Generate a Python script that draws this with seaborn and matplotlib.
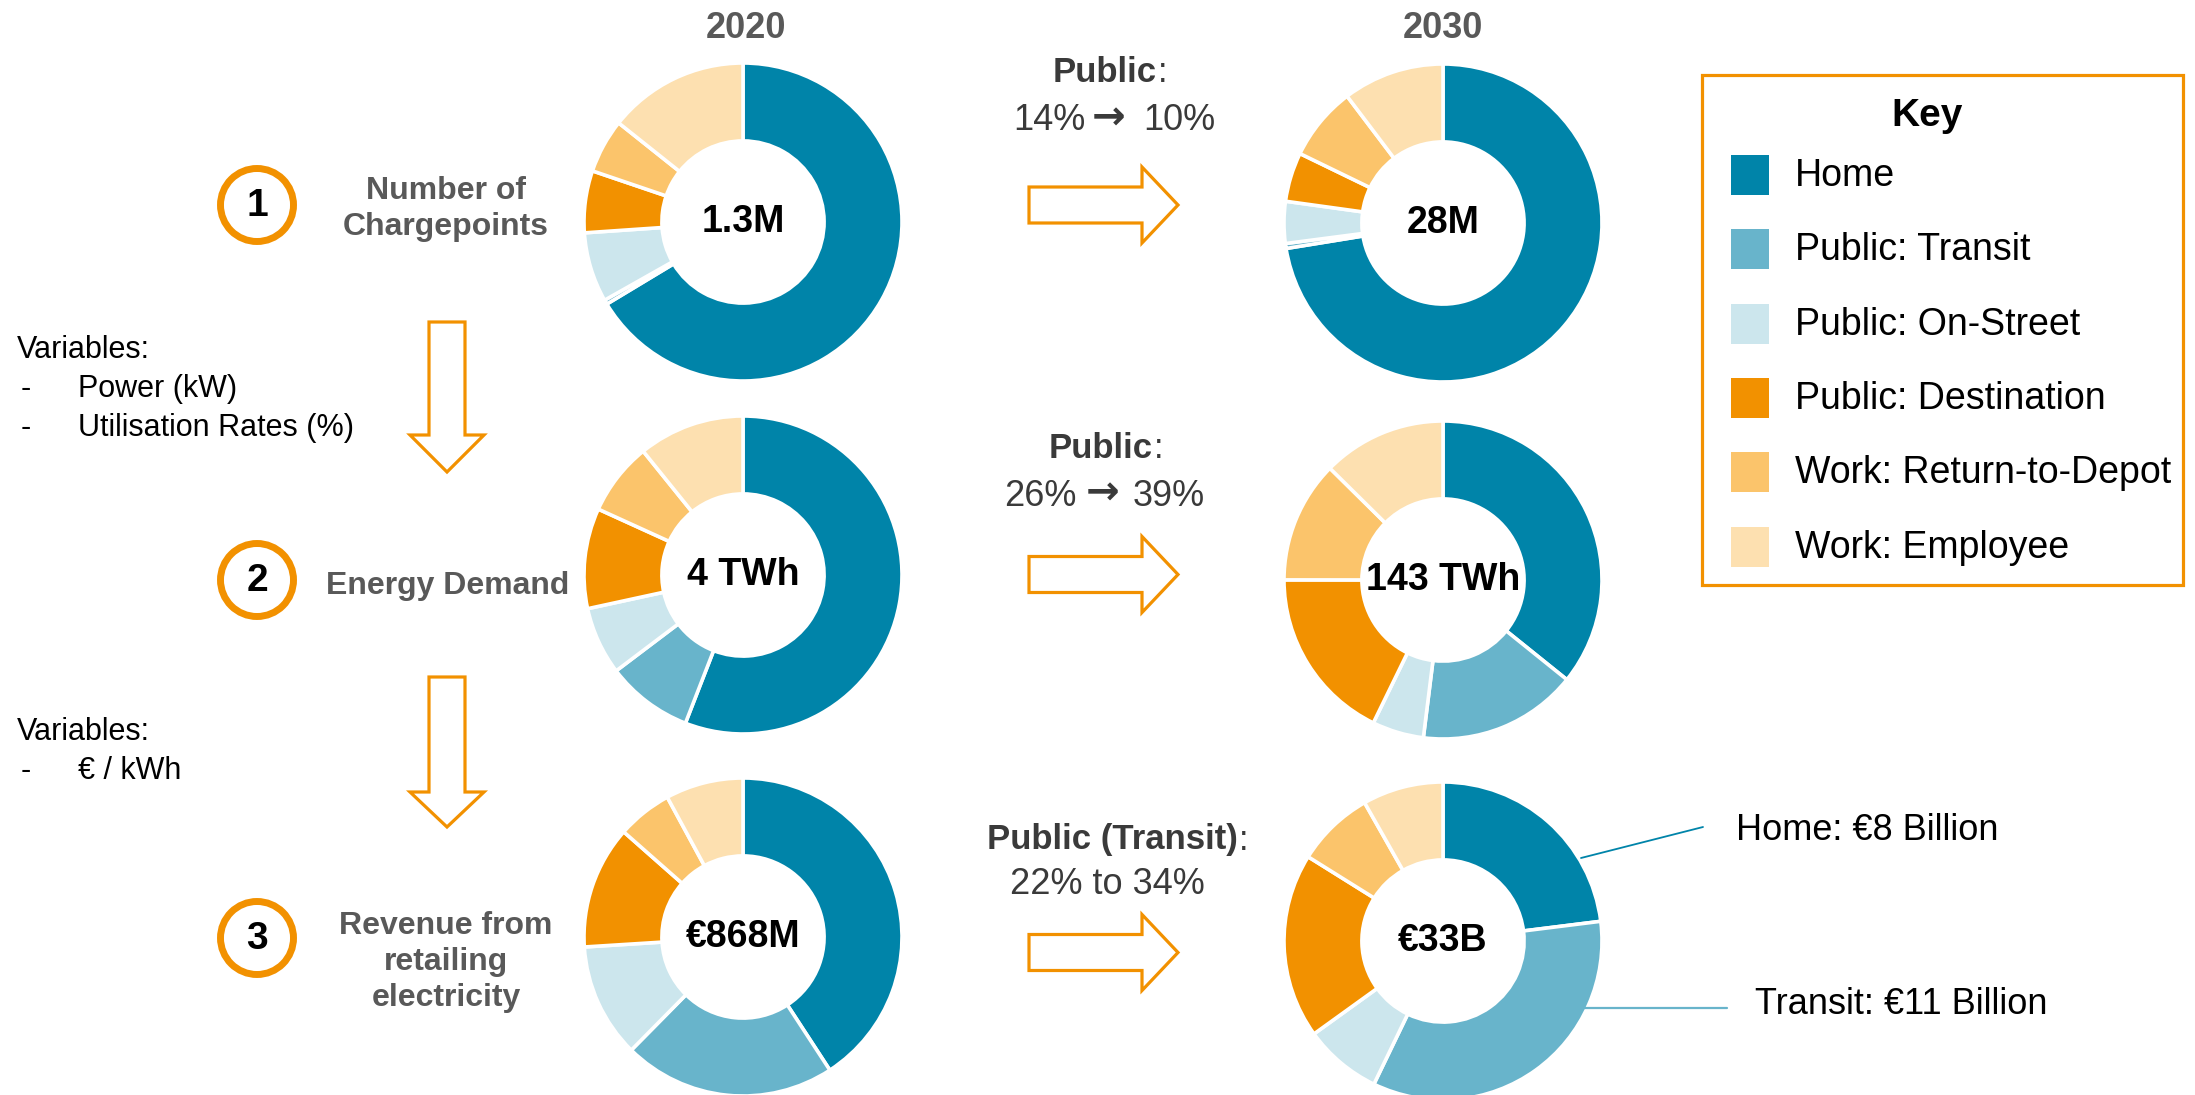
import matplotlib
matplotlib.use("Agg")
import matplotlib.pyplot as plt
import seaborn as sns
from matplotlib.patches import Polygon, Circle, Rectangle

# ---------------- data ----------------
categories = ["Home", "Public: Transit", "Public: On-Street",
              "Public: Destination", "Work: Return-to-Depot", "Work: Employee"]
colors_hex = ["#0084A9", "#68B4CB", "#CCE6ED", "#F29100", "#FBC46B", "#FDE0B0"]

chargepoints_2020 = [66.4, 0.45, 7.1, 6.3, 5.5, 14.3]
chargepoints_2030 = [72.4, 0.5, 4.25, 5.0, 7.5, 10.3]
energy_2020 = [55.9, 8.8, 6.9, 10.2, 7.4, 10.8]
energy_2030 = [35.8, 16.2, 5.25, 17.8, 12.4, 12.6]
revenue_2020 = [40.8, 21.6, 11.6, 12.5, 5.6, 7.9]
revenue_2030 = [23.0, 34.1, 7.9, 18.8, 7.9, 8.2]

center_labels = ["1.3M", "28M", "4 TWh", "143 TWh", "€868M", "€33B"]
years = ["2020", "2030"]
step_numbers = ["1", "2", "3"]
row_titles = ["Number of\nChargepoints", "Energy Demand", "Revenue from\nretailing\nelectricity"]
change_titles = ["Public", "Public", "Public (Transit)"]
change_from = ["14%", "26%"]
change_to = ["10%", "39%"]
change_text_3 = "22% to 34%"
variables_1 = ["Power (kW)", "Utilisation Rates (%)"]
variables_2 = ["€ / kWh"]
callouts = ["Home: €8 Billion", "Transit: €11 Billion"]

# ---------------- style ----------------
sns.set_theme(style="white")
plt.rcParams["font.family"] = ["Liberation Sans", "DejaVu Sans"]
palette = sns.color_palette(colors_hex)

W, H = 2195, 1095
DPI = 100
fig = plt.figure(figsize=(W / DPI, H / DPI), dpi=DPI, facecolor="white")

ORANGE = "#F29100"
GREY = "#595959"
DARK = "#3A3A3A"

# ---------------- donuts ----------------
R = 159
PAD = 1.03
donut_data = [chargepoints_2020, chargepoints_2030, energy_2020,
              energy_2030, revenue_2020, revenue_2030]
centers = [(743, 222), (1443, 223), (743, 575), (1443, 580), (743, 937), (1443, 941)]

for vals, (cx, cy), lab in zip(donut_data, centers, center_labels):
    half = R * PAD
    ax = fig.add_axes([(cx - half) / W, 1 - (cy + half) / H, 2 * half / W, 2 * half / H])
    ax.pie(vals, colors=palette, startangle=90, counterclock=False, radius=1,
           wedgeprops=dict(width=0.49, edgecolor="white", linewidth=2.6))
    ax.set_xlim(-PAD, PAD)
    ax.set_ylim(-PAD, PAD)
    ax.set_aspect("equal")
    ax.axis("off")
    ax.text(0, 0, lab, ha="center", va="center", fontsize=27,
            fontweight="bold", color="black")

# ---------------- overlay ----------------
ov = fig.add_axes([0, 0, 1, 1], zorder=10)
ov.set_xlim(0, W)
ov.set_ylim(H, 0)
ov.axis("off")
ov.patch.set_alpha(0)

# year headers
for yr, x in zip(years, [746, 1443]):
    ov.text(x, 29, yr, ha="center", va="center", fontsize=26,
            fontweight="bold", color=GREY)

# step circles and titles
circ_y = [205, 580, 938]
title_pos = [(446, 209), (448, 586), (446, 962)]
for num, cy, title, (tx, ty) in zip(step_numbers, circ_y, row_titles, title_pos):
    ov.add_patch(Circle((257, cy), 36.5, facecolor="white", edgecolor=ORANGE, lw=5))
    ov.text(257, cy + 1, num, ha="center", va="center", fontsize=28,
            fontweight="bold", color="black")
    ov.text(tx, ty, title, ha="center", va="center", fontsize=23,
            fontweight="bold", color=GREY, linespacing=1.27)

# variables text
ov.text(17, 350, "Variables:", ha="left", va="center", fontsize=22, color="black")
for i, v in enumerate(variables_1):
    y = 389 + 39 * i
    ov.text(21, y, "-", ha="left", va="center", fontsize=22, color="black")
    ov.text(78, y, v, ha="left", va="center", fontsize=22, color="black")
ov.text(17, 732, "Variables:", ha="left", va="center", fontsize=22, color="black")
for i, v in enumerate(variables_2):
    y = 771 + 39 * i
    ov.text(21, y, "-", ha="left", va="center", fontsize=22, color="black")
    ov.text(78, y, v, ha="left", va="center", fontsize=22, color="black")


def down_arrow(top, head, tip, xc=447):
    pts = [(xc - 18, top), (xc + 18, top), (xc + 18, head), (xc + 37, head),
           (xc, tip), (xc - 37, head), (xc - 18, head)]
    ov.add_patch(Polygon(pts, closed=True, facecolor="white", edgecolor=ORANGE,
                         lw=2.3, joinstyle="miter"))


def right_arrow(cy, x0=1029, xh=1142, xt=1178):
    pts = [(x0, cy - 18), (xh, cy - 18), (xh, cy - 38), (xt, cy),
           (xh, cy + 38), (xh, cy + 18), (x0, cy + 18)]
    ov.add_patch(Polygon(pts, closed=True, facecolor="white", edgecolor=ORANGE,
                         lw=2.3, joinstyle="miter"))


down_arrow(322, 435, 472)
down_arrow(677, 792, 827)

# change annotations
title_end = [1157, 1153, 1238]
title_y = [73, 449, 840]
arrow_y = [205, 574.5, 952.5]
for t, xe, ty in zip(change_titles, title_end, title_y):
    ov.text(xe, ty, t, ha="right", va="center", fontsize=25,
            fontweight="bold", color=DARK)
    ov.text(xe + 1, ty, ":", ha="left", va="center", fontsize=25, color=DARK)

pct_y = [121, 496]
pct_from_end = [1085, 1077]
pct_arrow_x = [1109, 1103]
pct_to_start = [1143, 1133]
for a, b, py, xe, xa, xs in zip(change_from, change_to, pct_y, pct_from_end,
                                pct_arrow_x, pct_to_start):
    ov.text(xe, py, a, ha="right", va="center", fontsize=26, color=DARK)
    ov.text(xa, py - 2, "\u2192", ha="center", va="center", fontsize=29,
            fontweight="bold", color=DARK, family=["DejaVu Sans"])
    ov.text(xs, py, b, ha="left", va="center", fontsize=26, color=DARK)
ov.text(1107, 884, change_text_3, ha="center", va="center", fontsize=26, color=DARK)

for ay in arrow_y:
    right_arrow(ay)

# legend / key box
ov.add_patch(Rectangle((1702, 75), 481, 510, facecolor="white",
                       edgecolor=ORANGE, lw=2.3))
ov.text(1927, 116, "Key", ha="center", va="center", fontsize=28,
        fontweight="bold", color="black")
key_y = [175, 249, 324, 398, 472, 547]
for cat, col, ky in zip(categories, palette, key_y):
    ov.add_patch(Rectangle((1731, ky - 20), 38, 40, facecolor=col, edgecolor="none"))
    ov.text(1795, ky + 1, cat, ha="left", va="center", fontsize=27, color="black")

# callouts on 2030 revenue donut
ov.plot([1581, 1703], [858, 827], color=colors_hex[0], lw=1.3)
ov.plot([1574, 1727], [1008, 1008], color=colors_hex[1], lw=1.6)
ov.text(1736, 830, callouts[0], ha="left", va="center", fontsize=26, color="black")
ov.text(1755, 1005, callouts[1], ha="left", va="center", fontsize=26, color="black")

fig.savefig("out.png", dpi=DPI, facecolor="white")
